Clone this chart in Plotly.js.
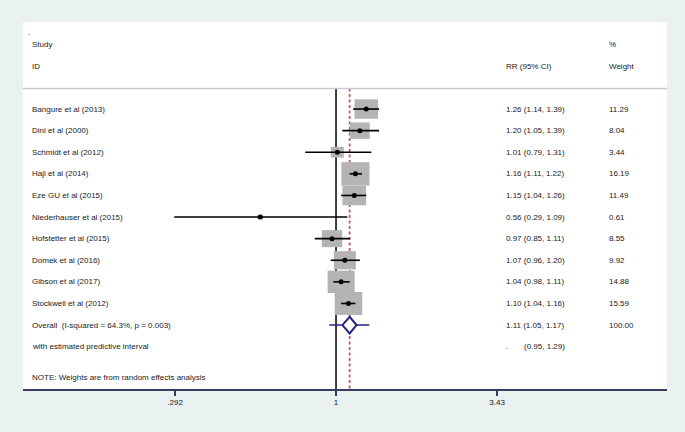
<!DOCTYPE html>
<html>
<head>
<meta charset="utf-8">
<script src="https://cdn.plot.ly/plotly-3.0.1.min.js"></script>
<style>html,body{margin:0;padding:0;background:#e9f1f1;}#chart{width:685px;height:432px;}</style>
</head>
<body>
<div id="chart"></div>
<script>
// ---------- data ----------
const studies = ["Bangure et al (2013)", "Dini et al (2000)", "Schmidt et al (2012)", "Haji et al (2014)",
  "Eze GU et al (2015)", "Niederhauser et al (2015)", "Hofstetter et al (2015)", "Domek et al (2016)",
  "Gibson et al (2017)", "Stockwell et al (2012)"];
const rr     = [1.26, 1.20, 1.01, 1.16, 1.15, 0.56, 0.97, 1.07, 1.04, 1.10];
const ciLow  = [1.14, 1.05, 0.79, 1.11, 1.04, 0.29, 0.85, 0.96, 0.98, 1.04];
const ciHigh = [1.39, 1.39, 1.31, 1.22, 1.26, 1.09, 1.11, 1.20, 1.11, 1.16];
const weights = [11.29, 8.04, 3.44, 16.19, 11.49, 0.61, 8.55, 9.92, 14.88, 15.59];
const overallRR = 1.11, overallLow = 1.05, overallHigh = 1.17;
const predLow = 0.95, predHigh = 1.29;
const overallLabel = "Overall\u00a0 (I-squared = 64.3%, p = 0.003)";
const overallWeight = "100.00";
const predLabel = "with estimated predictive interval";
const noteLabel = "NOTE: Weights are from random effects analysis";
const tickVals = [0.292, 1, 3.43];
const tickText = [".292", "1", "3.43"];

// ---------- styling constants ----------
const FONT = "Liberation Sans, Arial, sans-serif";
const TXT = "#1a1a1a";
const PLOT_L = 23, PLOT_W = 644;
const PX_PER_DECADE = 301;
const ROW_PX = 21.6;
const BOX_W = 7.0, BOX_H = 5.8;   // px per sqrt(weight)
const nRows = studies.length;
const overallRow = nRows, predRow = nRows + 1, noteRow = nRows + 2.45;
const sepRow = -0.95, yBottom = 12.96, yTop = -4.03;

const fmt = v => v.toFixed(2);
const px = p => (p - PLOT_L) / PLOT_W;

const traces = [];
// null line at 1
traces.push({x: [1, 1], y: [sepRow, yBottom], mode: "lines", line: {color: "#000", width: 1.5}, hoverinfo: "skip"});
// overall effect dashed line
traces.push({x: [overallRR, overallRR], y: [sepRow, yBottom], mode: "lines", line: {color: "#b45f63", width: 1.8, dash: "3px,2.5px"}, hoverinfo: "skip"});
// weight boxes
studies.forEach((s, i) => {
  const sw = Math.sqrt(weights[i]);
  const dl = (BOX_W * sw / 2) / PX_PER_DECADE;
  const dy = (BOX_H * sw / 2) / ROW_PX;
  const x0 = rr[i] * Math.pow(10, -dl), x1 = rr[i] * Math.pow(10, dl);
  traces.push({x: [x0, x1, x1, x0, x0], y: [i - dy, i - dy, i + dy, i + dy, i - dy],
    mode: "lines", fill: "toself", fillcolor: "#b4b4b4", line: {width: 0, color: "#b4b4b4"}, hoverinfo: "skip"});
});
// CI lines
const cx = [], cy = [];
studies.forEach((s, i) => { cx.push(ciLow[i], ciHigh[i], null); cy.push(i, i, null); });
traces.push({x: cx, y: cy, mode: "lines", line: {color: "#000", width: 1.6}, hoverinfo: "skip"});
// point estimates
traces.push({x: rr, y: studies.map((s, i) => i), mode: "markers", marker: {color: "#000", size: 5, symbol: "circle"}, hoverinfo: "skip"});
// predictive interval
traces.push({x: [predLow, predHigh], y: [overallRow, overallRow], mode: "lines", line: {color: "#232383", width: 1.6}, hoverinfo: "skip"});
// overall diamond
const dh = 8.3 / ROW_PX;
traces.push({x: [overallLow, overallRR, overallHigh, overallRR, overallLow],
  y: [overallRow, overallRow - dh, overallRow, overallRow + dh, overallRow],
  mode: "lines", fill: "toself", fillcolor: "#fff", line: {color: "#232383", width: 2}, hoverinfo: "skip"});

// ---------- text ----------
const annotations = [];
function ann(p, row, text, anchor) {
  annotations.push({xref: "paper", yref: "y", x: px(p), y: row, text: text, showarrow: false,
    xanchor: anchor || "left", yanchor: "middle", borderpad: 0,
    font: {family: FONT, size: 8, color: TXT}});
}
ann(27, -3.55, ".");
ann(31, -3.01, "Study");
ann(31, -1.99, "ID");
ann(505, -1.99, "RR (95% CI)");
ann(608, -3.01, "%");
ann(608, -1.99, "Weight");
studies.forEach((s, i) => {
  ann(31, i, s);
  ann(505, i, fmt(rr[i]) + " (" + fmt(ciLow[i]) + ", " + fmt(ciHigh[i]) + ")");
  ann(608, i, fmt(weights[i]));
});
ann(31, overallRow, overallLabel);
ann(505, overallRow, fmt(overallRR) + " (" + fmt(overallLow) + ", " + fmt(overallHigh) + ")");
ann(608, overallRow, overallWeight);
ann(31, predRow, predLabel);
ann(505, predRow, ".");
ann(523, predRow, "(" + fmt(predLow) + ", " + fmt(predHigh) + ")");
ann(31, noteRow, noteLabel);

const layout = {
  width: 685, height: 432,
  margin: {l: 23, r: 18, t: 22, b: 43, pad: 0},
  paper_bgcolor: "#e9f1f1", plot_bgcolor: "#ffffff",
  showlegend: false,
  font: {family: FONT, size: 8, color: TXT},
  xaxis: {type: "log", range: [-1.04, 1.0997], tickmode: "array", tickvals: tickVals, ticktext: tickText,
    ticks: "outside", ticklen: 5, tickwidth: 1.5, tickcolor: "#3a3a62",
    showline: true, linecolor: "#3a3a62", linewidth: 1.5, mirror: false,
    showgrid: false, zeroline: false, tickfont: {family: FONT, size: 8, color: TXT}, fixedrange: true},
  yaxis: {range: [yBottom, yTop], visible: false, showgrid: false, zeroline: false, fixedrange: true},
  shapes: [{type: "line", xref: "paper", yref: "y", x0: 0, x1: 1, y0: sepRow, y1: sepRow,
    line: {color: "#c8c8d2", width: 1.5}}],
  annotations: annotations
};
Plotly.newPlot("chart", traces, layout, {displayModeBar: false, staticPlot: true});
</script>
</body>
</html>
